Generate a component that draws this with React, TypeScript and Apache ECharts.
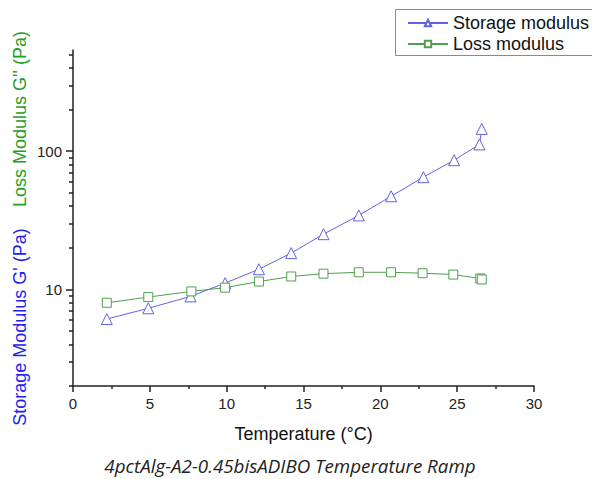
import React, { useEffect, useRef } from "react";
import * as echarts from "echarts";

const temperature = [2.2, 4.9, 7.65, 9.9, 12.1, 14.2, 16.3, 18.6, 20.7, 22.8, 24.8, 26.45, 26.6];
const storageModulus = [6.1, 7.3, 8.9, 11.1, 14.0, 18.3, 25.1, 34.3, 47.2, 64.9, 86.1, 112, 145];
const lossTemperature = [2.2, 4.9, 7.7, 9.9, 12.1, 14.2, 16.3, 18.6, 20.7, 22.75, 24.75, 26.5, 26.6];
const lossModulus = [8.0, 8.8, 9.67, 10.3, 11.4, 12.4, 13.0, 13.3, 13.3, 13.1, 12.8, 12.0, 11.8];

const yMajorTicks = [10, 100];
const yMinorTicks = [2, 3, 4, 5, 6, 7, 8, 9, 20, 30, 40, 50, 60, 70, 80, 90, 200, 300, 400, 500];

const seriesNames = ["Storage modulus", "Loss modulus"];
const xName = "Temperature (°C)";
const yNameStorage = "Storage Modulus G' (Pa)";
const yNameLoss = "Loss Modulus G'' (Pa)";
const chartTitle = "4pctAlg-A2-0.45bisADIBO Temperature Ramp";

const BLUE = "#6262e2";
const GREEN = "#4f9f4f";
const FONT = "Liberation Sans, Arial, sans-serif";

export default function App() {
  const ref = useRef<HTMLDivElement>(null);
  useEffect(() => {
    document.body.style.margin = "0";
    if (!ref.current) return;
    const chart = echarts.init(ref.current, null, { renderer: "svg" });
    const yMin = 2;
    const yMax = 540;
    chart.setOption({
      animation: false,
      backgroundColor: "#ffffff",
      grid: { left: 73, right: 58, top: 50, bottom: 93, containLabel: false },
      legend: {
        left: 395,
        top: 9,
        orient: "vertical",
        data: seriesNames,
        itemWidth: 40,
        itemHeight: 8,
        itemGap: 3,
        padding: [5, 0, 3, 12],
        borderWidth: 0,
        textStyle: { fontFamily: FONT, fontSize: 18, color: "#111", lineHeight: 18 },
      },
      xAxis: {
        type: "value",
        min: 0,
        max: 30,
        interval: 5,
        axisLine: { show: true, lineStyle: { color: "#222", width: 1.5 } },
        axisTick: { show: true, length: 6, lineStyle: { color: "#222", width: 1.5 } },
        minorTick: { show: true, splitNumber: 2, length: 3, lineStyle: { color: "#222", width: 1.5 } },
        splitLine: { show: false },
        axisLabel: { fontFamily: FONT, fontSize: 15, color: "#222", margin: 10 },
        name: xName,
        nameLocation: "middle",
        nameGap: 39,
        nameTextStyle: { fontFamily: FONT, fontSize: 18, color: "#111" },
      },
      yAxis: [
        {
          type: "log",
          min: yMin,
          max: yMax,
          position: "left",
          axisLine: { show: true, lineStyle: { color: "#222", width: 1.5 } },
          axisTick: { show: true, length: 7, customValues: yMajorTicks, lineStyle: { color: "#222", width: 1.5 } },
          axisLabel: { fontFamily: FONT, fontSize: 15, color: "#222", margin: 11, customValues: yMajorTicks },
          splitLine: { show: false },
        },
        {
          type: "log",
          min: yMin,
          max: yMax,
          position: "left",
          offset: 0,
          axisLine: { show: false },
          axisTick: { show: true, length: 4, customValues: yMinorTicks, lineStyle: { color: "#222", width: 1.5 } },
          axisLabel: { show: false },
          splitLine: { show: false },
        },
      ],
      series: [
        {
          name: seriesNames[0],
          type: "line",
          yAxisIndex: 0,
          data: temperature.map((t, i) => [t, storageModulus[i]]),
          symbol: "triangle",
          symbolSize: 11,
          lineStyle: { color: BLUE, width: 1 },
          itemStyle: { color: "#ffffff", borderColor: BLUE, borderWidth: 1 },
        },
        {
          name: seriesNames[1],
          type: "line",
          yAxisIndex: 0,
          data: lossTemperature.map((t, i) => [t, lossModulus[i]]),
          symbol: "rect",
          symbolSize: 9,
          lineStyle: { color: GREEN, width: 1 },
          itemStyle: { color: "#ffffff", borderColor: GREEN, borderWidth: 1 },
        },
      ],
      graphic: [
        {
          type: "rect",
          shape: { x: 395.5, y: 9.5, width: 220, height: 46 },
          style: { fill: "none", stroke: "#8a8a8a", lineWidth: 1 },
          silent: true,
        },
        {
          type: "text",
          x: 20,
          y: 327,
          rotation: Math.PI / 2,
          style: {
            text: yNameStorage,
            fontFamily: FONT,
            fontSize: 18,
            fill: "#2222f0",
            align: "center",
            verticalAlign: "middle",
          },
        },
        {
          type: "text",
          x: 20,
          y: 119,
          rotation: Math.PI / 2,
          style: {
            text: yNameLoss,
            fontFamily: FONT,
            fontSize: 18,
            fill: "#1fa01f",
            align: "center",
            verticalAlign: "middle",
          },
        },
        {
          type: "text",
          x: 290,
          y: 466,
          style: {
            text: chartTitle,
            fontFamily: "Open Sans, sans-serif",
            fontStyle: "italic",
            fontSize: 18.8,
            fill: "#222",
            align: "center",
            verticalAlign: "middle",
          },
        },
      ],
    });
    return () => chart.dispose();
  }, []);
  return <div ref={ref} style={{ width: 592, height: 479 }} />;
}
